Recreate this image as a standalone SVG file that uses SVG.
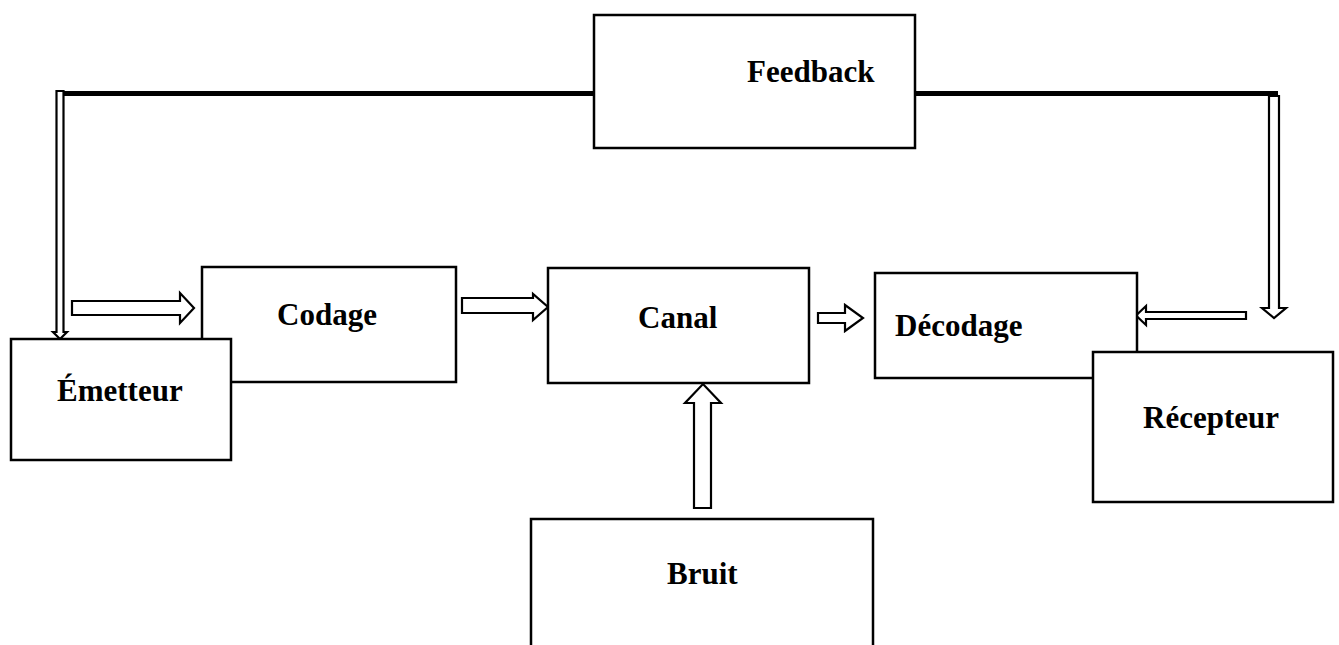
<svg xmlns="http://www.w3.org/2000/svg" width="1339" height="645" viewBox="0 0 1339 645">
  <style>
    .box { fill: #ffffff; stroke: #000000; stroke-width: 2.5; }
    .lbl { font-family: "Liberation Serif", "Times New Roman", serif; font-weight: bold; font-size: 31px; fill: #000000; }
    .arr { fill: #ffffff; stroke: #000000; stroke-width: 2.2; stroke-linejoin: miter; }
    .bar { stroke: #000000; stroke-width: 5; fill: none; }
  </style>
  <rect width="1339" height="645" fill="#ffffff"/>

  <!-- connectors -->
  <g id="connectors">
    <!-- feedback bar -->
    <line class="bar" x1="62" y1="93.5" x2="594" y2="93.5"/>
    <line class="bar" x1="915" y1="93.5" x2="1278" y2="93.5"/>
    <!-- feedback down to Émetteur -->
    <path class="arr" d="M56.5,91 L63.5,91 L63.5,332 L67,332 L60,339 L53,332 L56.5,332 Z"/>
    <!-- feedback down on the right -->
    <path class="arr" d="M1269,96 L1279,96 L1279,308 L1286,308 L1274,318 L1262,308 L1269,308 Z"/>
    <!-- Émetteur to Codage -->
    <path class="arr" d="M72,301 L180,301 L180,293 L194,308 L180,323 L180,315 L72,315 Z"/>
    <!-- Codage to Canal -->
    <path class="arr" d="M462,298 L533,298 L533,294 L548,307 L533,320 L533,313 L462,313 Z"/>
    <!-- Canal to Décodage -->
    <path class="arr" d="M818,313 L845,313 L845,305 L863,318 L845,331 L845,323 L818,323 Z"/>
    <!-- Récepteur side to Décodage -->
    <path class="arr" d="M1246,312 L1146,312 L1146,306 L1136,315.5 L1146,325 L1146,319 L1246,319 Z"/>
    <!-- Bruit to Canal -->
    <path class="arr" d="M694,508 L694,403 L685,403 L703,384 L721,403 L711,403 L711,508 Z"/>
  </g>

  <g id="feedback">
    <rect class="box" x="594" y="15" width="321" height="133"/>
    <text class="lbl" x="747" y="82">Feedback</text>
  </g>

  <g id="codage">
    <rect class="box" x="202" y="267" width="254" height="115"/>
    <text class="lbl" x="277" y="325">Codage</text>
  </g>

  <g id="emetteur">
    <rect class="box" x="11" y="339" width="220" height="121"/>
    <text class="lbl" x="57" y="401">Émetteur</text>
  </g>

  <g id="canal">
    <rect class="box" x="548" y="268" width="261" height="115"/>
    <text class="lbl" x="638" y="328">Canal</text>
  </g>

  <g id="decodage">
    <rect class="box" x="875" y="273" width="262" height="105"/>
    <text class="lbl" x="895" y="336">Décodage</text>
  </g>

  <g id="recepteur">
    <rect class="box" x="1093" y="352" width="240" height="150"/>
    <text class="lbl" x="1143" y="428">Récepteur</text>
  </g>

  <g id="bruit">
    <rect class="box" x="531" y="519" width="342" height="140"/>
    <text class="lbl" x="667" y="584">Bruit</text>
  </g>
</svg>
